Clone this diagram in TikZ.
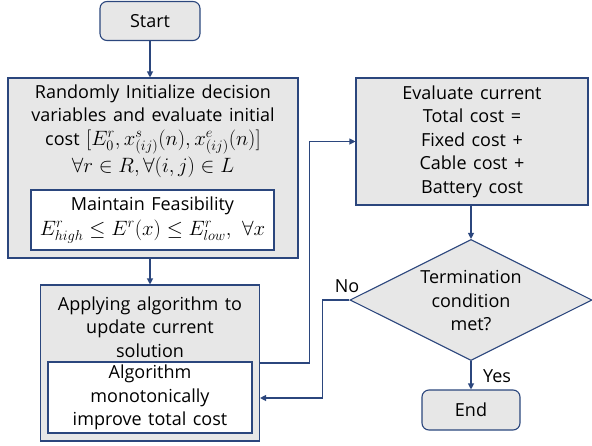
\documentclass[tikz,border=0pt]{standalone}
\usepackage{fontspec}
\setmainfont[WordSpace=1.4]{Open Sans}
\usetikzlibrary{arrows.meta,shapes.geometric}
\definecolor{lineblue}{RGB}{43,70,125}
\definecolor{boxgray}{RGB}{231,231,231}
\newcommand{\mybigmath}[1]{{\fontsize{20.5}{23.5}\selectfont$#1$}}
\begin{document}
\begin{tikzpicture}[x=1pt,y=-1pt,
  every node/.style={font=\fontsize{18}{23.5}\selectfont, align=center, inner sep=0pt},
  greybox/.style={draw=lineblue, fill=boxgray, line width=1.1pt},
  whitebox/.style={draw=lineblue, fill=white, line width=1.1pt},
  termbox/.style={greybox, rounded corners=7pt},
  arr/.style={draw=lineblue, line width=1.1pt, -{Triangle[length=6pt,width=6pt]}},
  conn/.style={draw=lineblue, line width=1.1pt}]
\useasboundingbox (0,0) rectangle (592,445);

% Start
\node[termbox, minimum width=100pt, minimum height=39pt] (start) at (150,21) {Start};

% Initialization box
\node[greybox, minimum width=290pt, minimum height=180pt] (init) at (153,168) {};
\node (inittext) at (153,131) {Randomly Initialize decision\\variables and evaluate initial\\cost \mybigmath{[E_0^r, x_{(ij)}^s(n), x_{(ij)}^e(n)]}\\[2pt]\mybigmath{\forall r\in R, \forall (i,j)\in L}};
\node[whitebox, minimum width=243pt, minimum height=60pt] (feas) at (152.5,220) {Maintain Feasibility\\[1pt]{\fontsize{19.5}{23.5}\selectfont$E_{high}^r \le E^r(x) \le E_{low}^r,\ \forall x$}};

% Apply algorithm box
\node[greybox, minimum width=219pt, minimum height=156pt] (apply) at (150,363) {};
\node (applytext) at (150,327) {Applying algorithm to\\update current\\solution};
\node[whitebox, minimum width=204pt, minimum height=71pt] (algo) at (150,397.5) {Algorithm\\monotonically\\improve total cost};

% Evaluate box
\node[greybox, minimum width=232pt, minimum height=127pt] (eval) at (472,141.5) {Evaluate current\\Total cost =\\Fixed cost +\\Cable cost +\\Battery cost};

% Decision diamond
\node[diamond, greybox, minimum width=242pt, minimum height=121pt] (dia) at (471,300) {};
\node (diatext) at (471,301) {Termination\\condition\\met?};

% End
\node[termbox, minimum width=98pt, minimum height=40pt] (end) at (471,410) {End};

% Connectors
\draw[arr] (start.south) -- (init.north -| start.south);
\draw[arr] (init.south -| apply.north) -- (apply.north);
\draw[arr] (apply.east) -- ++(49,0) |- (eval.west);
\draw[arr] (eval.south -| dia.north) -- (dia.north);
\draw[arr] (dia.west) -- ++(-27,0) |- ([yshift=-35pt]apply.east);
\draw[arr] (dia.south) -- (end.north);

% Labels
\node (nolabel) at (347,286) {No};
\node (yeslabel) at (497,376) {Yes};
\end{tikzpicture}
\end{document}
